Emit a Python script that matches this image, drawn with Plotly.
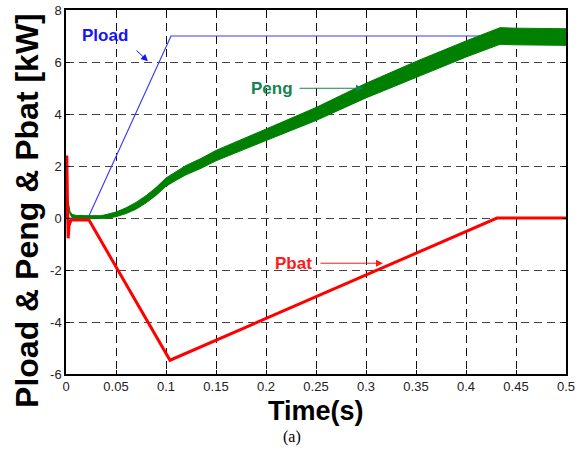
import plotly.graph_objects as go

# ---- data ----
pload_t = [0, 0.022, 0.105, 0.5]
pload_kw = [0, 0, 7, 7]

peng_t = [0, 0.001, 0.002, 0.004, 0.006, 0.01, 0.02, 0.03, 0.035, 0.04, 0.05, 0.06,
          0.07, 0.08, 0.09, 0.1, 0.11, 0.12, 0.135, 0.15, 0.2, 0.25, 0.3, 0.35,
          0.4, 0.434, 0.45, 0.5]
peng_mid = [0, 0.9, 0.6, 0.2, 0.08, 0.04, 0.03, 0.03, 0.03, 0.06, 0.14, 0.28,
            0.47, 0.72, 1.02, 1.38, 1.62, 1.84, 2.1, 2.4, 3.2, 4.0, 4.9, 5.72,
            6.5, 7.0, 6.98, 6.96]
peng_half = [0.02, 0.05, 0.05, 0.05, 0.06, 0.06, 0.06, 0.06, 0.06, 0.07, 0.09, 0.11,
             0.13, 0.14, 0.15, 0.16, 0.17, 0.18, 0.19, 0.2, 0.22, 0.25, 0.28, 0.3,
             0.31, 0.32, 0.32, 0.32]

pbat_t = [0, 0.0008, 0.0015, 0.0022, 0.003, 0.005, 0.01, 0.015, 0.02, 0.023,
          0.104, 0.431, 0.5]
pbat_kw = [0, 2.4, 0.5, -0.78, -0.3, -0.08, -0.08, -0.08, -0.08, -0.08,
           -5.47, 0, 0]

x_ticks = [0, 0.05, 0.1, 0.15, 0.2, 0.25, 0.3, 0.35, 0.4, 0.45, 0.5]
x_labels = ["0", "0.05", "0.1", "0.15", "0.2", "0.25", "0.3", "0.35", "0.4", "0.45", "0.5"]
y_ticks = [-6, -4, -2, 0, 2, 4, 6, 8]
y_labels = ["-6", "-4", "-2", "0", "2", "4", "6", "8"]

peng_upper = [m + h for m, h in zip(peng_mid, peng_half)]
peng_lower = [m - h for m, h in zip(peng_mid, peng_half)]

fig = go.Figure()
fig.add_trace(go.Scatter(x=pload_t, y=pload_kw, mode="lines",
                         line=dict(color="#3a3aff", width=1.2), showlegend=False))
fig.add_trace(go.Scatter(x=peng_t, y=peng_lower, mode="lines",
                         line=dict(color="#008000", width=1), showlegend=False))
fig.add_trace(go.Scatter(x=peng_t, y=peng_upper, mode="lines", fill="tonexty",
                         fillcolor="#008000",
                         line=dict(color="#008000", width=1), showlegend=False))
fig.add_trace(go.Scatter(x=pbat_t, y=pbat_kw, mode="lines",
                         line=dict(color="#ff0000", width=3), showlegend=False))

font_b = "Liberation Sans, Arial, sans-serif"

annotations = [
    # labels
    dict(x=0.039, y=7.03, text="<b>Pload</b>", showarrow=False,
         font=dict(family=font_b, size=17, color="#1414ff")),
    dict(x=0.206, y=4.99, text="<b>Peng</b>", showarrow=False,
         font=dict(family=font_b, size=17, color="#13844f")),
    dict(x=0.227, y=-1.74, text="<b>Pbat</b>", showarrow=False,
         font=dict(family=font_b, size=17, color="#ff1a1a")),
    # arrows
    dict(x=0.082, y=6.03, ax=-15, ay=-14, text=" ", showarrow=True,
         arrowhead=2, arrowsize=1.4, arrowwidth=1, arrowcolor="#1414ff"),
    dict(x=0.297, y=4.99, ax=-67, ay=0, text=" ", showarrow=True,
         arrowhead=2, arrowsize=1.4, arrowwidth=1, arrowcolor="#13844f"),
    dict(x=0.317, y=-1.74, ax=-66, ay=0, text=" ", showarrow=True,
         arrowhead=2, arrowsize=1.4, arrowwidth=1, arrowcolor="#ff1a1a"),
    # axis titles
    dict(xref="paper", yref="paper", x=0.5, y=-0.103, text="<b>Time(s)</b>",
         showarrow=False, xanchor="center", yanchor="middle",
         font=dict(family=font_b, size=27, color="black")),
    dict(xref="paper", yref="paper", x=-0.078, y=0.448, text="<b>Pload &amp; Peng &amp; Pbat [kW]</b>",
         showarrow=False, textangle=-90, xanchor="center", yanchor="middle",
         font=dict(family=font_b, size=32, color="black")),
    dict(xref="paper", yref="paper", x=(292 - 66) / 500, y=(374 - 437) / 364, text="(a)",
         showarrow=False, xanchor="center", yanchor="middle",
         font=dict(family="Liberation Serif, Times New Roman, serif", size=16, color="black")),
]

fig.update_layout(
    width=579, height=457,
    margin=dict(l=66, r=13, t=10, b=83, autoexpand=False),
    paper_bgcolor="white", plot_bgcolor="white",
    annotations=annotations,
    font=dict(family=font_b, size=13, color="#222"),
)
fig.update_xaxes(range=[0, 0.5], tickvals=x_ticks, ticktext=x_labels,
                 showgrid=True, gridcolor="#111", griddash="8px,5px", gridwidth=1,
                 showline=True, linecolor="black", linewidth=1.5, mirror="ticks",
                 ticks="inside", ticklen=4, tickcolor="black", zeroline=False)
fig.update_yaxes(range=[-6, 8], tickvals=y_ticks, ticktext=y_labels,
                 showgrid=True, gridcolor="#444", griddash="8px,5px", gridwidth=1,
                 showline=True, linecolor="black", linewidth=1.5, mirror="ticks",
                 ticks="inside", ticklen=4, tickcolor="black", zeroline=False)

fig.write_html("out.html")
